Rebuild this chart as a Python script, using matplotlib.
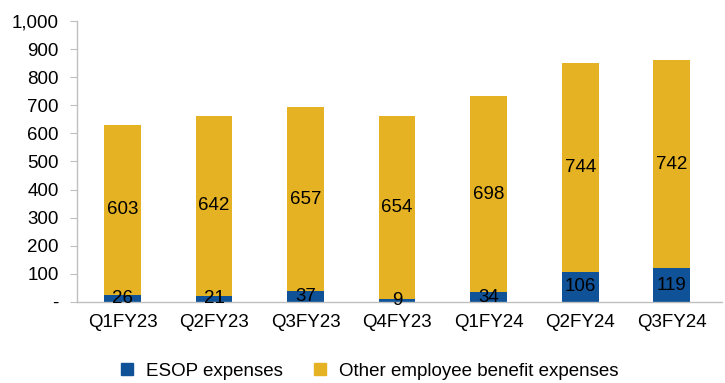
import matplotlib
matplotlib.use("Agg")
import matplotlib.pyplot as plt
from matplotlib.ticker import FuncFormatter
from matplotlib.patches import Patch

quarters = ["Q1FY23", "Q2FY23", "Q3FY23", "Q4FY23", "Q1FY24", "Q2FY24", "Q3FY24"]
esop = [26, 21, 37, 9, 34, 106, 119]
other = [603, 642, 657, 654, 698, 744, 742]

BLUE = "#0F5298"
GOLD = "#E5B224"
GRID = "#BFBFBF"

plt.rcParams["font.family"] = ["Liberation Sans", "DejaVu Sans"]
plt.rcParams["font.size"] = 13.5

fig = plt.figure(figsize=(7.25, 3.83), dpi=100)
ax = fig.add_axes([0.106, 0.212, 0.89, 0.733])

x = range(len(quarters))
ax.bar(x, esop, width=0.4, color=BLUE, label="ESOP expenses")
ax.bar(x, other, width=0.4, bottom=esop, color=GOLD,
       label="Other employee benefit expenses")

# values centred in each segment
for i in x:
    ax.text(i, esop[i] / 2, str(esop[i]), ha="center", va="center", color="black")
    ax.text(i, esop[i] + other[i] / 2, str(other[i]), ha="center", va="center",
            color="black")

ax.set_xlim(-0.5, 6.55)
ax.set_ylim(0, 1000)
ax.set_yticks(range(0, 1001, 100))
ax.yaxis.set_major_formatter(FuncFormatter(lambda v, p: "-" if v == 0 else f"{int(v):,}"))
ax.set_xticks(list(x))
ax.set_xticklabels(quarters)

for side in ("top", "right"):
    ax.spines[side].set_visible(False)
for side in ("left", "bottom"):
    ax.spines[side].set_color(GRID)
    ax.spines[side].set_linewidth(1.0)
ax.tick_params(axis="y", color=GRID, length=5, pad=8)
ax.tick_params(axis="x", length=0, pad=9)

handles = [Patch(color=BLUE), Patch(color=GOLD)]
fig.legend(handles, ["ESOP expenses", "Other employee benefit expenses"],
           loc="lower center", bbox_to_anchor=(0.51, -0.035), ncol=2, frameon=False,
           handlelength=0.6, handleheight=0.6, columnspacing=1.7, handletextpad=0.7)

fig.savefig("out.png", dpi=100)
